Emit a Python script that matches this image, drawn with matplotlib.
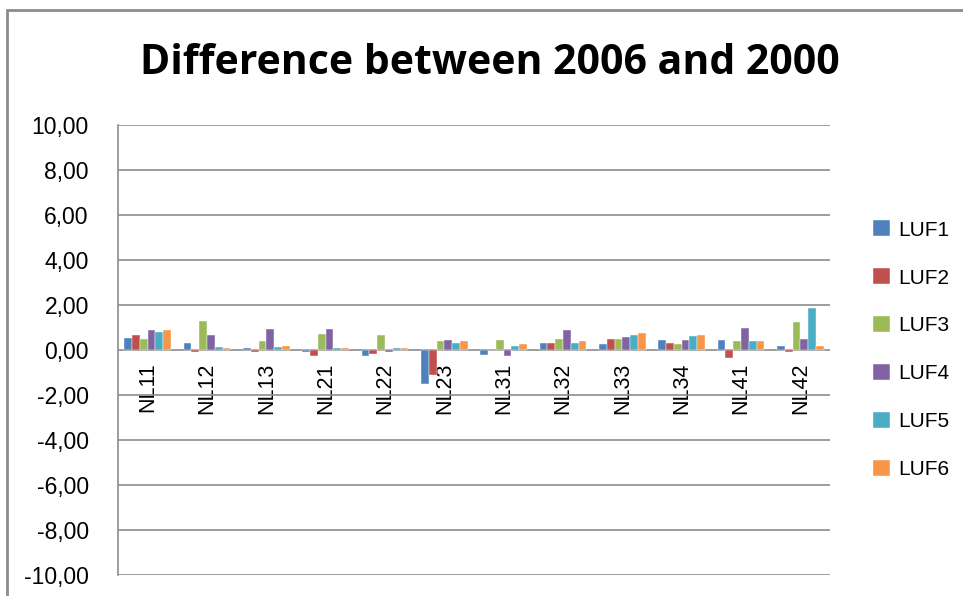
import numpy as np
import matplotlib
matplotlib.use("Agg")
import matplotlib.pyplot as plt
from matplotlib.patches import Rectangle

regions = ["NL11", "NL12", "NL13", "NL21", "NL22", "NL23",
           "NL31", "NL32", "NL33", "NL34", "NL41", "NL42"]
series_names = ["LUF1", "LUF2", "LUF3", "LUF4", "LUF5", "LUF6"]

luf1 = [0.54, 0.32, 0.08, -0.09, -0.26, -1.52, -0.20, 0.32, 0.27, 0.44, 0.44, 0.20]
luf2 = [0.68, -0.09, -0.09, -0.26, -0.18, -1.13, 0.00, 0.32, 0.50, 0.32, -0.36, -0.09]
luf3 = [0.48, 1.31, 0.38, 0.72, 0.68, 0.38, 0.44, 0.50, 0.50, 0.27, 0.38, 1.25]
luf4 = [0.90, 0.68, 0.95, 0.95, -0.09, 0.44, -0.26, 0.90, 0.56, 0.44, 1.00, 0.50]
luf5 = [0.78, 0.15, 0.15, 0.09, 0.09, 0.33, 0.20, 0.32, 0.68, 0.62, 0.38, 1.88]
luf6 = [0.90, 0.09, 0.20, 0.09, 0.09, 0.38, 0.27, 0.38, 0.74, 0.68, 0.38, 0.20]
series_values = [luf1, luf2, luf3, luf4, luf5, luf6]

y_ticks = [-10, -8, -6, -4, -2, 0, 2, 4, 6, 8, 10]
y_tick_labels = ["-10,00", "-8,00", "-6,00", "-4,00", "-2,00", "0,00",
                 "2,00", "4,00", "6,00", "8,00", "10,00"]

colors = ["#4F81BD", "#C0504D", "#9BBB59", "#8064A2", "#4BACC6", "#F79646"]

fig = plt.figure(figsize=(9.63, 5.96), dpi=100)
fig.patch.set_facecolor("white")

# outer chart frame
fig.add_artist(Rectangle((7 / 963, -0.05), 1.0, 1 - 10 / 596 + 0.05,
                         transform=fig.transFigure, fill=False,
                         edgecolor="#8c8c8c", linewidth=2.0))

ax = fig.add_axes([118 / 963, 1 - 575 / 596, 712 / 963, 450 / 596])

n_cat = len(regions)
n_ser = len(series_names)
bar_w = 0.132
x = np.arange(n_cat)
for i, (name, vals, col) in enumerate(zip(series_names, series_values, colors)):
    offs = (i - (n_ser - 1) / 2) * bar_w
    ax.bar(x + offs, vals, width=bar_w, color=col, label=name,
           edgecolor="white", linewidth=0.3, zorder=3)

ax.set_xlim(-0.5, n_cat - 0.5)
ax.set_ylim(-10, 10)

# category axis sits on the zero line
ax.spines["bottom"].set_position(("data", 0))
ax.spines["bottom"].set_visible(False)
for s in ["top", "right"]:
    ax.spines[s].set_visible(False)
ax.spines["left"].set_color("#8c8c8c")
ax.spines["left"].set_linewidth(1.2)

ax.set_yticks(y_ticks)
ax.set_yticklabels(y_tick_labels, family="Liberation Sans", fontsize=16.5)
ax.yaxis.grid(True, color="#8c8c8c", linewidth=1.2, zorder=0)
ax.set_axisbelow(True)

ax.set_xticks(x)
ax.set_xticklabels(regions, rotation=90, family="Liberation Sans",
                   fontsize=15.5, va="top", ha="center")
ax.tick_params(axis="x", length=0, pad=9)
ax.tick_params(axis="y", length=0, pad=21)

fig.text(490 / 963, 1 - 63 / 596, "Difference between 2006 and 2000",
         ha="center", va="center", fontsize=29.5, fontweight="bold",
         family="Open Sans")

handles, labels = ax.get_legend_handles_labels()
leg = fig.legend(handles, labels, loc="upper left",
                 bbox_to_anchor=(865 / 963, 1 - 212 / 596),
                 frameon=False, prop={"family": "Liberation Sans", "size": 15},
                 handlelength=0.8, handleheight=0.8, handletextpad=0.4,
                 labelspacing=1.38, borderaxespad=0)

fig.savefig("out.png", dpi=100, facecolor="white")
